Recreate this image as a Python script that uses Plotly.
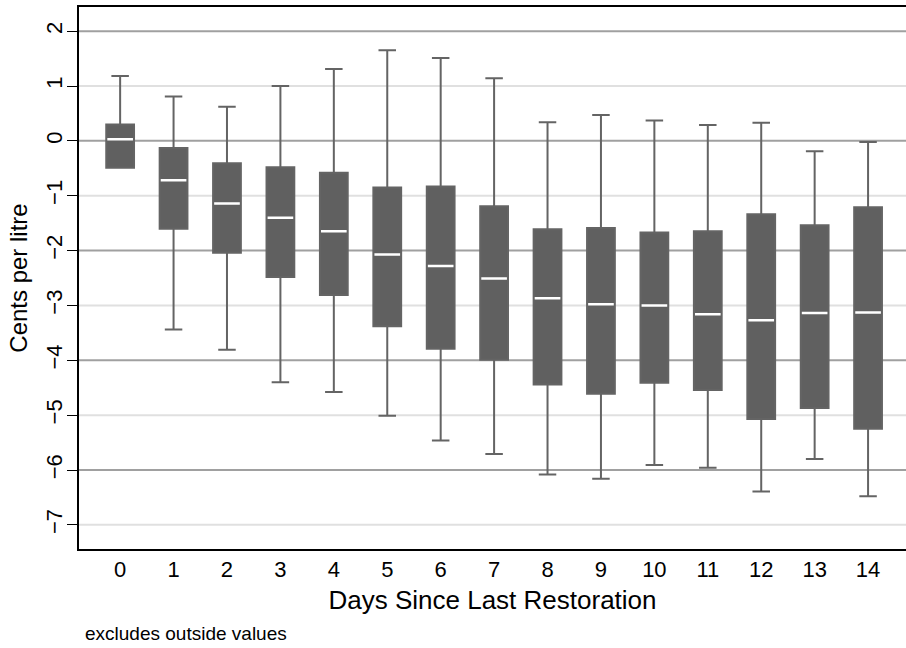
import plotly.graph_objects as go

days = list(range(15))
upper = [1.18, 0.81, 0.62, 1.00, 1.31, 1.65, 1.51, 1.14, 0.34, 0.47, 0.37, 0.29, 0.33, -0.19, -0.02]
q3 = [0.30, -0.13, -0.41, -0.48, -0.58, -0.85, -0.83, -1.19, -1.61, -1.59, -1.67, -1.65, -1.34, -1.54, -1.21]
median = [0.03, -0.72, -1.14, -1.40, -1.65, -2.07, -2.28, -2.51, -2.87, -2.98, -3.00, -3.16, -3.27, -3.14, -3.13]
q1 = [-0.49, -1.60, -2.04, -2.48, -2.81, -3.38, -3.79, -3.99, -4.44, -4.61, -4.41, -4.54, -5.07, -4.87, -5.25]
lower = [-0.49, -3.44, -3.81, -4.40, -4.58, -5.01, -5.46, -5.71, -6.08, -6.16, -5.91, -5.96, -6.39, -5.80, -6.48]

ytick_vals = list(range(-7, 3))
ytick_text = [("\u2212" + str(-v)) if v < 0 else str(v) for v in ytick_vals]

FONT = "Liberation Sans, Arial, sans-serif"
BOXW = 0.52

fig = go.Figure()
fig.add_trace(go.Box(
    x=days, q1=q1, median=median, q3=q3, lowerfence=lower, upperfence=upper,
    width=BOXW, whiskerwidth=0.63,
    fillcolor="rgb(96,96,96)",
    line=dict(color="rgb(100,100,100)", width=2),
    boxpoints=False, showlegend=False, hoverinfo="skip",
))
fig.add_trace(go.Box(
    x=days, q1=median, median=median, q3=median, lowerfence=median, upperfence=median,
    width=BOXW - 0.04, whiskerwidth=0,
    fillcolor="white",
    line=dict(color="white", width=2.5),
    boxpoints=False, showlegend=False, hoverinfo="skip",
))

for g in ytick_vals:
    col = "rgb(160,160,160)" if g % 2 == 0 else "rgb(224,224,224)"
    fig.add_shape(type="line", xref="paper", x0=0, x1=1, yref="y", y0=g, y1=g,
                  line=dict(color=col, width=2), layer="below")

fig.update_layout(
    width=906, height=648,
    margin=dict(l=79, r=0, t=7, b=99),
    paper_bgcolor="white", plot_bgcolor="white",
    boxmode="overlay",
    font=dict(family=FONT, color="black"),
    xaxis=dict(
        range=[-0.77, 14.71], tickvals=days, ticktext=[str(d) for d in days],
        tickfont=dict(size=22), ticks="",
        showgrid=False, zeroline=False,
        showline=True, linecolor="black", linewidth=1.5, mirror=True,
        title=dict(text="Days Since Last Restoration", font=dict(size=26), standoff=10),
    ),
    yaxis=dict(
        range=[-7.44, 2.44], tickvals=ytick_vals, ticktext=ytick_text,
        tickfont=dict(size=22), tickangle=-90,
        ticks="outside", ticklen=10, tickcolor="black", tickwidth=1,
        showgrid=False,
        zeroline=False,
        showline=True, linecolor="black", linewidth=1.5, mirror=False,
        title=dict(text="Cents per litre", font=dict(size=24), standoff=8),
    ),
    annotations=[dict(
        text="excludes outside values", xref="paper", yref="paper",
        x=(83 - 79) / 827, y=(549 - 633) / 542, xanchor="left", yanchor="middle",
        showarrow=False, font=dict(size=19, color="black"),
    )],
)

try:
    fig.update_yaxes(ticklabelstandoff=-4)
except Exception:
    pass

fig.write_html("out.html")
